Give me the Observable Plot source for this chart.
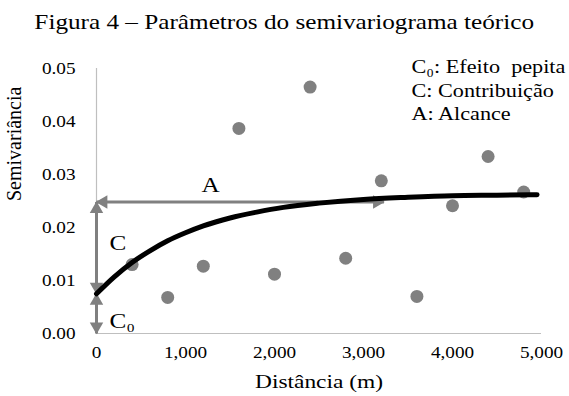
<!DOCTYPE html>
<html><head><meta charset="utf-8">
<script src="https://cdn.jsdelivr.net/npm/d3@7"></script>
<script src="https://cdn.jsdelivr.net/npm/@observablehq/plot@0.6"></script>
<style>
body{margin:0;background:#fff;}
#title{width:569px;height:40px;line-height:44px;text-align:center;font-family:"Liberation Serif",serif;font-size:21px;color:#000;overflow:hidden;}
#title span{display:inline-block;transform:scaleX(1.2);transform-origin:center;}
#chart svg{display:block;}
</style></head><body>
<div id="title"><span>Figura 4 – Parâmetros do semivariograma teórico</span></div>
<div id="chart"></div>
<script>
// Experimental semivariogram points
const distances = [400, 800, 1200, 1600, 2000, 2400, 2800, 3200, 3600, 4000, 4400, 4800];
const semivariances = [0.0130, 0.0068, 0.0127, 0.0387, 0.0112, 0.0465, 0.0142, 0.0288, 0.0070, 0.0241, 0.0334, 0.0267];
// Theoretical model curve
const modelDistances = [0, 200, 400, 600, 800, 1000, 1200, 1500, 1800, 2100, 2500, 3000, 3500, 4000, 4500, 4950];
const modelValues = [0.0075, 0.0107, 0.0134, 0.0156, 0.0175, 0.0190, 0.0203, 0.0218, 0.0229, 0.0238, 0.0246, 0.0253, 0.0257, 0.0260, 0.0261, 0.0262];
// Annotation parameters
const nugget = 0.0075;
const sillLevel = 0.0248;
const rangeDist = 3230;
const legendLines = ["C₀: Efeito  pepita", "C: Contribuição", "A: Alcance"];
const xTicks = [0, 1000, 2000, 3000, 4000, 5000];
const yTicks = [0, 0.01, 0.02, 0.03, 0.04, 0.05];

const points = distances.map((d, i) => ({d, v: semivariances[i]}));
const model = modelDistances.map((d, i) => ({d, v: modelValues[i]}));
const segs = [
  {x1: 0, y1: sillLevel, x2: rangeDist, y2: sillLevel},
  {x1: 0, y1: nugget, x2: 0, y2: sillLevel},
  {x1: 0, y1: 0, x2: 0, y2: nugget}
];
const off = 7;
const heads = [
  {x: rangeDist, y: sillLevel, r: 90, dx: -off, dy: 0},
  {x: 0, y: sillLevel, r: -90, dx: off, dy: 0},
  {x: 0, y: sillLevel, r: 0, dx: 0, dy: off},
  {x: 0, y: nugget, r: 180, dx: 0, dy: -off},
  {x: 0, y: nugget, r: 0, dx: 0, dy: off},
  {x: 0, y: 0, r: 180, dx: 0, dy: -off}
];
const grey = "#808080";
const axisGrey = "#bfbfbf";
const font = "'Liberation Serif', serif";

const plot = Plot.plot({
  width: 569,
  height: 356,
  marginTop: 28,
  marginBottom: 63,
  marginLeft: 96,
  marginRight: 28,
  style: {fontFamily: font, fontSize: "16px", color: "#000", background: "#fff"},
  x: {domain: [0, 5000]},
  y: {domain: [0, 0.05]},
  marks: [
    Plot.ruleY([0], {stroke: axisGrey, strokeWidth: 1.2}),
    Plot.ruleX([0], {y1: 0, y2: 0.05, stroke: axisGrey, strokeWidth: 1.2}),
    Plot.axisX({ticks: xTicks, tickSize: 0, tickPadding: 13, tickFormat: d3.format(","), label: null, fontSize: 16, fontFamily: font}),
    Plot.axisY({ticks: yTicks, tickSize: 0, tickPadding: 21, tickFormat: d3.format(".2f"), label: null, fontSize: 16, fontFamily: font}),
    Plot.dot(points, {x: "d", y: "v", r: 6.5, fill: grey, stroke: "none"}),
    ...segs.map(s => Plot.link([s], {x1: "x1", y1: "y1", x2: "x2", y2: "y2", stroke: grey, strokeWidth: 3})),
    ...heads.map(h => Plot.dot([h], {x: "x", y: "y", symbol: "triangle", r: 5, rotate: "r", fill: grey, stroke: "none", dx: h.dx, dy: h.dy})),
    Plot.line(model, {x: "d", y: "v", stroke: "#000", strokeWidth: 5, curve: "monotone-x"}),
    Plot.text(["A"], {x: 1282, y: 0.0279, fontSize: 21, fontFamily: font, fill: "#000"}),
    Plot.text(["C"], {x: 145, y: 0.0170, fontSize: 21, fontFamily: font, textAnchor: "start", fill: "#000"}),
    Plot.text(["C₀"], {x: 145, y: 0.0024, fontSize: 21, fontFamily: font, textAnchor: "start", fill: "#000"}),
    ...legendLines.map((t, i) => Plot.text([t], {frameAnchor: "top-left", dx: 315, dy: -1 + i * 23.5, lineAnchor: "middle", textAnchor: "start", fontSize: 18.5, fontFamily: font, fill: "#000"})),
    Plot.text(["Distância (m)"], {frameAnchor: "bottom", dy: 48, lineAnchor: "middle", fontSize: 19.5, fontFamily: font, fill: "#000"}),
    Plot.text(["Semivariância"], {frameAnchor: "left", dx: -82, rotate: -90, lineAnchor: "middle", fontSize: 20, fontFamily: font, fill: "#000"})
  ]
});
document.getElementById("chart").appendChild(plot);
// the reference text is horizontally stretched; widen each upright label
plot.querySelectorAll("text").forEach(el => {
  const tr = el.getAttribute("transform") || "";
  if (tr.includes("rotate")) return;
  const len = el.getComputedTextLength();
  if (len > 0) {
    el.setAttribute("textLength", (len * 1.2).toFixed(1));
    el.setAttribute("lengthAdjust", "spacingAndGlyphs");
  }
});
</script>
</body></html>
